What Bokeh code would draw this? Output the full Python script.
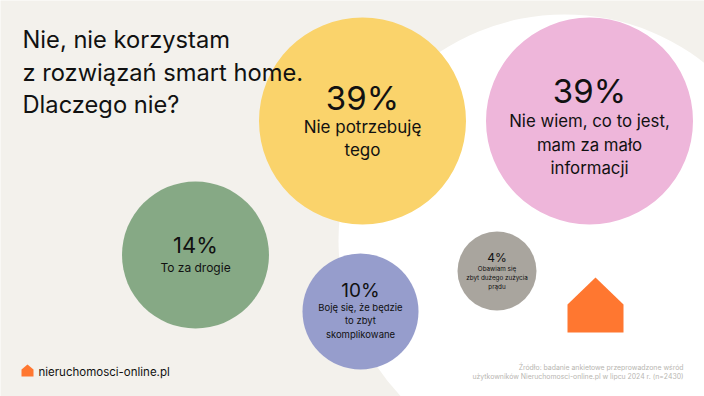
from bokeh.plotting import figure
from bokeh.models import Range1d
from bokeh.core.properties import value
from bokeh.embed import file_html
from bokeh.resources import INLINE

FONT = "Inter"

# Data
percents = ["39%", "39%", "14%", "10%", "4%"]
answers = [
    ["Nie potrzebuję", "tego"],
    ["Nie wiem, co to jest,", "mam za mało", "informacji"],
    ["To za drogie"],
    ["Boję się, że będzie", "to zbyt", "skomplikowane"],
    ["Obawiam się", "zbyt dużego zużycia", "prądu"],
]
title_lines = ["Nie, nie korzystam", "z rozwiązań smart home.", "Dlaczego nie?"]
source_lines = ["Źródło: badanie ankietowe przeprowadzone wśród",
                "użytkowników Nieruchomosci-online.pl w lipcu 2024 r. (n=2430)"]
brand = "nieruchomosci-online.pl"

# Layout and style
cx = [362, 589, 195, 360, 496.5]
cy = [120.5, 120.5, 254.5, 311, 270.5]
radii = [103.5, 103.5, 73.5, 58, 39.5]
colors = ["#FAD36B", "#EEB6DA", "#86A985", "#969DCC", "#A9A59E"]
pct_base = [108, 101, 252, 296, 261]
pct_size = [33, 33, 22, 19, 12]
line_base = [[132, 155], [126, 150, 173], [271], [310, 323, 337], [271, 280, 289]]
line_size = [17, 16.8, 12, 9.5, 6.3]
BG = "#F3F1EC"
ORANGE = "#FF7730"

p = figure(width=704, height=396, output_backend="svg", toolbar_location=None,
           x_range=Range1d(0, 704), y_range=Range1d(396, 0),
           background_fill_color=BG, border_fill_color=BG,
           min_border=0, outline_line_color=None)
p.axis.visible = False
p.grid.visible = False

p.circle(x=[564], y=[240], radius=226, fill_color="white", line_color=None)
p.patch([567, 595, 623, 623, 567], [304, 277, 304, 332, 332], fill_color=ORANGE, line_color=None)
p.patch([21, 27, 33, 33, 21], [369, 364, 369, 376, 376], fill_color=ORANGE, line_color=None)

p.circle(x=cx, y=cy, radius=radii, fill_color=colors, line_color=None)

def txt(x, y, s, size, align="center", color="#111111"):
    # the alphabetic baseline lands about a third of the size too low in the svg output
    p.text(x=[x], y=[y - 0.33 * size], text=[s], text_font=value(FONT), text_font_size=f"{size}px",
           text_align=align, text_baseline="alphabetic", text_color=color)

for i, pc in enumerate(percents):
    txt(cx[i], pct_base[i], pc, pct_size[i])
    for line, b in zip(answers[i], line_base[i]):
        txt(cx[i], b, line, line_size[i])

for line, b in zip(title_lines, [47, 80, 112]):
    txt(22, b, line, 23.7, "left")
for line, b in zip(source_lines, [369, 378]):
    txt(683, b, line, 6.9, "right", "#B8B6B1")
txt(38, 375, brand, 11.5, "left")

open("out.html", "w").write(file_html(p, INLINE))
